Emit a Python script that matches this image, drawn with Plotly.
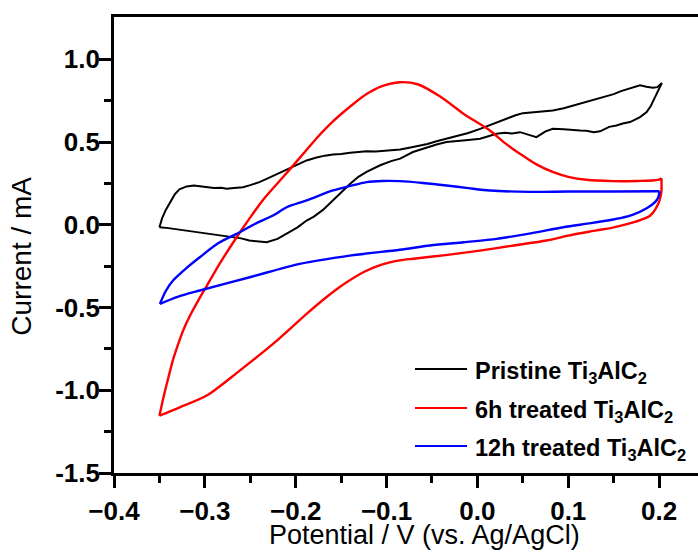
import plotly.graph_objects as go

# ---------------- data ----------------
series_names = ["Pristine Ti<sub>3</sub>AlC<sub>2</sub>",
                "6h treated Ti<sub>3</sub>AlC<sub>2</sub>",
                "12h treated Ti<sub>3</sub>AlC<sub>2</sub>"]
series_colors = ["#000000", "#ff0000", "#0000ff"]

# Pristine: forward (anodic) scan
black_fwd_x = [-0.350, -0.347, -0.343, -0.339, -0.336, -0.333, -0.328, -0.320, -0.312, -0.305,
               -0.298, -0.290, -0.282, -0.276, -0.268, -0.258, -0.250, -0.240, -0.232, -0.224,
               -0.215, -0.206, -0.197, -0.188, -0.178, -0.168, -0.159, -0.150, -0.140, -0.130,
               -0.122, -0.112, -0.100, -0.085, -0.075, -0.065, -0.055, -0.045, -0.034, -0.022,
               -0.010, 0.003, 0.012, 0.021, 0.032, 0.042, 0.050, 0.060, 0.070, 0.083,
               0.095, 0.105, 0.113, 0.122, 0.130, 0.140, 0.150, 0.158, 0.168, 0.179,
               0.186, 0.193, 0.198, 0.203]
black_fwd_y = [-0.015, 0.040, 0.090, 0.127, 0.150, 0.185, 0.215, 0.232, 0.238, 0.232,
               0.228, 0.222, 0.224, 0.218, 0.222, 0.227, 0.240, 0.258, 0.278, 0.298,
               0.318, 0.339, 0.362, 0.389, 0.405, 0.418, 0.425, 0.428, 0.436, 0.440,
               0.445, 0.443, 0.450, 0.455, 0.466, 0.478, 0.488, 0.505, 0.520, 0.538,
               0.555, 0.580, 0.600, 0.620, 0.640, 0.662, 0.675, 0.680, 0.684, 0.691,
               0.705, 0.720, 0.736, 0.750, 0.762, 0.775, 0.790, 0.808, 0.823, 0.843,
               0.835, 0.829, 0.832, 0.857]
# Pristine: reverse (cathodic) scan
black_rev_x = [0.203, 0.199, 0.1955, 0.191, 0.1863, 0.179, 0.168, 0.160, 0.153, 0.145,
               0.135, 0.128, 0.120, 0.113, 0.105, 0.095, 0.083, 0.075, 0.065, 0.056,
               0.047, 0.038, 0.030, 0.021, 0.012, 0.003, -0.010, -0.022, -0.034, -0.045,
               -0.058, -0.071, -0.085, -0.095, -0.107, -0.122, -0.131, -0.140, -0.150, -0.159,
               -0.170, -0.180, -0.188, -0.198, -0.210, -0.220, -0.232, -0.242, -0.251, -0.260,
               -0.269, -0.280, -0.293, -0.306, -0.318, -0.330, -0.340, -0.350]
black_rev_y = [0.857, 0.815, 0.772, 0.720, 0.681, 0.651, 0.621, 0.612, 0.600, 0.592,
               0.565, 0.560, 0.568, 0.570, 0.574, 0.578, 0.580, 0.565, 0.530, 0.545,
               0.560, 0.552, 0.556, 0.550, 0.535, 0.520, 0.512, 0.505, 0.500, 0.485,
               0.462, 0.440, 0.400, 0.385, 0.360, 0.320, 0.290, 0.248, 0.195, 0.147,
               0.090, 0.050, 0.026, -0.015, -0.054, -0.085, -0.105, -0.102, -0.095, -0.082,
               -0.075, -0.066, -0.055, -0.045, -0.035, -0.028, -0.020, -0.015]

# 6h treated: forward scan
red_fwd_x = [-0.350, -0.345, -0.340, -0.335, -0.329, -0.324, -0.316, -0.307, -0.298, -0.282,
             -0.265, -0.250, -0.236, -0.221, -0.2065, -0.190, -0.175, -0.159, -0.140, -0.122,
             -0.105, -0.0854, -0.065, -0.041, -0.015, 0.0138, 0.030, 0.0467, 0.065, 0.0835,
             0.100, 0.120, 0.1496, 0.175, 0.199, 0.2025]
red_fwd_y = [-1.154, -1.030, -0.920, -0.815, -0.715, -0.640, -0.545, -0.455, -0.370, -0.220,
             -0.075, 0.045, 0.150, 0.245, 0.335, 0.440, 0.535, 0.625, 0.715, 0.790,
             0.838, 0.862, 0.848, 0.775, 0.670, 0.570, 0.495, 0.430, 0.365, 0.318,
             0.290, 0.272, 0.264, 0.265, 0.272, 0.282]
# 6h treated: reverse scan
red_rev_x = [0.2025, 0.2025, 0.2005, 0.196, 0.190, 0.180, 0.1716, 0.150, 0.131, 0.100,
             0.076, 0.040, 0.0028, -0.035, -0.0707, -0.0854, -0.107, -0.125, -0.146, -0.168,
             -0.188, -0.225, -0.2616, -0.298, -0.3276, -0.350]
red_rev_y = [0.282, 0.200, 0.148, 0.095, 0.055, 0.030, 0.015, -0.015, -0.034, -0.065,
             -0.095, -0.125, -0.156, -0.183, -0.205, -0.215, -0.243, -0.285, -0.355, -0.445,
             -0.538, -0.720, -0.881, -1.032, -1.103, -1.154]

# 12h treated: forward scan
blue_fwd_x = [-0.3495, -0.343, -0.335, -0.320, -0.3056, -0.285, -0.2616, -0.245, -0.225, -0.210,
              -0.188, -0.159, -0.140, -0.122, -0.105, -0.0853, -0.060, -0.034, -0.010, 0.0138,
              0.0578, 0.100, 0.150, 0.2005]
blue_fwd_y = [-0.478, -0.400, -0.337, -0.260, -0.196, -0.110, -0.045, 0.005, 0.056, 0.106,
              0.147, 0.2075, 0.235, 0.258, 0.265, 0.264, 0.253, 0.238, 0.222, 0.2075,
              0.199, 0.201, 0.201, 0.203]
# 12h treated: reverse scan
blue_rev_x = [0.2005, 0.199, 0.1955, 0.1863, 0.170, 0.157, 0.1496, 0.125, 0.0945, 0.060,
              0.0211, -0.015, -0.0523, -0.0853, -0.1404, -0.1955, -0.2506, -0.3056, -0.330,
              -0.3495]
blue_rev_y = [0.203, 0.165, 0.137, 0.100, 0.058, 0.040, 0.032, 0.010, -0.0145, -0.050,
              -0.085, -0.105, -0.125, -0.151, -0.186, -0.236, -0.317, -0.397, -0.435,
              -0.478]

x_tick_vals = [-0.4, -0.3, -0.2, -0.1, 0.0, 0.1, 0.2]
x_tick_text = ["\u22120.4", "\u22120.3", "\u22120.2", "\u22120.1", "0.0", "0.1", "0.2"]
y_tick_vals = [-1.5, -1.0, -0.5, 0.0, 0.5, 1.0]
y_tick_text = ["-1.5", "-1.0", "-0.5", "0.0", "0.5", "1.0"]

x_title = "Potential / V (vs. Ag/AgCl)"
y_title = "Current / mA"

# ---------------- figure ----------------
FONT = "Liberation Sans, Arial, Helvetica, sans-serif"
fig = go.Figure()

branches = [
    (black_fwd_x, black_fwd_y, 0, "linear"),
    (black_rev_x, black_rev_y, 0, "linear"),
    (red_fwd_x, red_fwd_y, 1, "spline"),
    (red_rev_x, red_rev_y, 1, "spline"),
    (blue_fwd_x, blue_fwd_y, 2, "spline"),
    (blue_rev_x, blue_rev_y, 2, "spline"),
]
for xs, ys, k, shp in branches:
    line = dict(color=series_colors[k], width=2.0 if k == 0 else 2.4, shape=shp)
    if shp == "spline":
        line["smoothing"] = 0.8
    fig.add_trace(go.Scatter(x=xs, y=ys, mode="lines", name=series_names[k],
                             line=line, showlegend=False))

def mids(v):
    return [(a + b) / 2 for a, b in zip(v[:-1], v[1:])]

x_minor = mids(x_tick_vals)
y_minor = mids(y_tick_vals)

axis_common = dict(showgrid=False, zeroline=False, showline=True, linecolor="black",
                   linewidth=2.7, ticks="outside", ticklen=12, tickwidth=2.7,
                   tickcolor="black",
                   tickfont=dict(family=FONT, size=26, color="black", weight="bold"))

fig.update_xaxes(range=[-0.4, 0.2428], tickmode="array", tickvals=x_tick_vals,
                 ticktext=x_tick_text, mirror=True, ticklabelstandoff=1,
                 minor=dict(tickmode="array", tickvals=x_minor, ticks="outside",
                            ticklen=7, tickwidth=2.7, tickcolor="black"),
                 **axis_common)
fig.update_yaxes(range=[-1.5, 1.256], tickmode="array", tickvals=y_tick_vals,
                 ticktext=y_tick_text, ticklabelstandoff=-6,
                 minor=dict(tickmode="array", tickvals=y_minor, ticks="outside",
                            ticklen=7, tickwidth=2.7, tickcolor="black"),
                 **axis_common)

# axis titles
fig.add_annotation(text=x_title, xref="paper", yref="paper", x=0.531, y=-0.1732,
                   xanchor="center", yanchor="bottom", showarrow=False,
                   font=dict(family=FONT, size=27, color="black"))
fig.add_annotation(text=y_title, xref="paper", yref="paper", x=-0.158, y=0.476,
                   xanchor="center", yanchor="middle", textangle=-90, showarrow=False,
                   font=dict(family=FONT, size=28, color="black"))

# legend (drawn in paper coordinates)
legend_rows_y = [0.228, 0.1425, 0.0592]
for name, col, ly in zip(series_names, series_colors, legend_rows_y):
    fig.add_shape(type="line", xref="paper", yref="paper", x0=0.5154, x1=0.6045,
                  y0=ly, y1=ly, line=dict(color=col, width=2))
    fig.add_annotation(text=name, xref="paper", yref="paper", x=0.6147, y=ly,
                       xanchor="left", yanchor="middle", yshift=-3, showarrow=False,
                       font=dict(family=FONT, size=23.5, color="black", weight="bold"))

fig.update_layout(width=698, height=552, margin=dict(l=114, r=0, t=17, b=79),
                  paper_bgcolor="white", plot_bgcolor="white", showlegend=False)

fig.write_html("out.html")
